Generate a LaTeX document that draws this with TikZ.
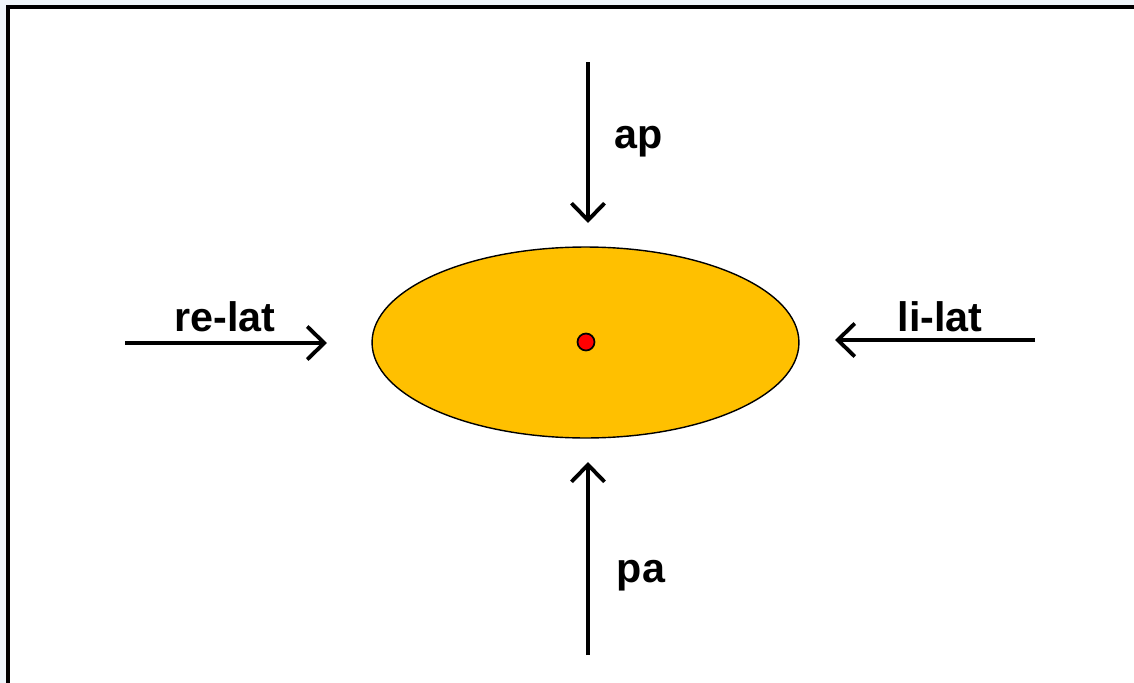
\documentclass[tikz,border=0pt]{standalone}
\usepackage{fontspec}
\setmainfont{Liberation Sans}
\usetikzlibrary{arrows.meta,positioning,shapes.geometric,calc}
\definecolor{PageBlue}{RGB}{240,246,251}
\definecolor{CoreOrange}{RGB}{255,192,0}
\definecolor{DotRed}{RGB}{255,0,0}
\tikzset{
  core/.style={ellipse,draw=black,fill=CoreOrange,line width=0.8pt,
    minimum width=8.54cm,minimum height=3.82cm,inner sep=0pt},
  centre/.style={circle,draw=black,fill=DotRed,line width=1pt,
    minimum size=0.34cm,inner sep=0pt},
  push/.style={-{Straight Barb[length=3.4mm,width=6.6mm,line width=2.2pt]},
    line width=2.2pt,black},
  tag/.style={font=\fontsize{23.5}{28}\selectfont\bfseries,inner sep=0pt}
}

\begin{document}
\begin{tikzpicture}[x=0.02cm,y=-0.02cm]
      \fill[PageBlue] (0,0) rectangle (1134,683);
      \useasboundingbox (0,0) rectangle (1134,683);
      \fill[white] (8,7) rectangle (1140,690);
      \draw[line width=2.2pt] (8,690) -- (8,7) -- (1140,7);
      \node[core] (kern) at (585.5,342.5) {};
      \node[centre] (mid) at (586,342) {};
      \coordinate (apA) at (588,62);
      \coordinate (apB) at (588,223);
      \coordinate (paA) at (588,655);
      \coordinate (paB) at (588,462);
      \coordinate (reA) at (125,343);
      \coordinate (reB) at (327,343);
      \coordinate (liA) at (1035,340);
      \coordinate (liB) at (835,340);
      \draw[push] (apA) -- (apB);
      \draw[push] (paA) -- (paB);
      \draw[push] (reA) -- (reB);
      \draw[push] (liA) -- (liB);
      \node[tag] (ap) at (639,142) {ap};
      \node[tag] (pa) at (641,576) {pa};
      \node[tag] (relat) at (225,317) {re-lat};
      \node[tag] (lilat) at (940,317) {li-lat};
    \end{tikzpicture}
\end{document}
